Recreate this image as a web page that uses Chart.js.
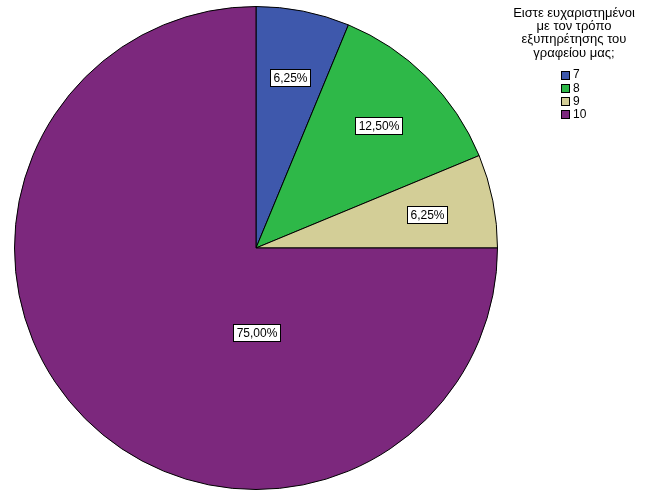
<!DOCTYPE html>
<html>
<head>
<meta charset="utf-8">
<script src="https://cdn.jsdelivr.net/npm/chart.js@4/dist/chart.umd.min.js"></script>
<style>
  html, body { margin: 0; padding: 0; background: #fff; }
  #wrap { width: 646px; height: 502px; }
</style>
</head>
<body>
<div id="wrap"><canvas id="chart" width="646" height="502"></canvas></div>
<script>
'use strict';

const categories = ['7', '8', '9', '10'];
const percents = [6.25, 12.5, 6.25, 75];
const sliceColors = ['#3E58AC', '#2EB848', '#D3CE97', '#7C287D'];
const legendTitle = ['Ειστε ευχαριστημένοι', 'με τον τρόπο', 'εξυπηρέτησης του', 'γραφείου μας;'];

function formatPercent(v) {
  return v.toFixed(2).replace('.', ',') + '%';
}

// white boxed percentage labels inside slices
const sliceLabels = {
  id: 'sliceLabels',
  afterDatasetsDraw(chart) {
    const c = chart.ctx;
    const arcs = chart.getDatasetMeta(0).data;
    c.save();
    c.font = '12px "Liberation Sans", Arial, sans-serif';
    c.textAlign = 'center';
    c.textBaseline = 'middle';
    arcs.forEach(function (arc, i) {
      const p = arc.getProps(['x', 'y', 'startAngle', 'endAngle', 'outerRadius']);
      let x, y;
      if (p.endAngle - p.startAngle > Math.PI) {
        x = p.x;
        y = p.y + p.outerRadius * 0.35;
      } else {
        const mid = (p.startAngle + p.endAngle) / 2;
        const r = p.outerRadius * 0.72;
        x = p.x + Math.cos(mid) * r;
        y = p.y + Math.sin(mid) * r;
      }
      const text = formatPercent(percents[i]);
      const w = Math.round(c.measureText(text).width) + 6;
      const h = 17;
      const bx = Math.round(x - w / 2) + 0.5;
      const by = Math.round(y - h / 2) + 0.5;
      c.fillStyle = '#fff';
      c.fillRect(bx, by, w, h);
      c.strokeStyle = '#000';
      c.lineWidth = 1;
      c.strokeRect(bx, by, w, h);
      c.fillStyle = '#000';
      c.fillText(text, bx + w / 2, by + h / 2 + 0.5);
    });
    c.restore();
  }
};

// legend box at the top right
const sideLegend = {
  id: 'sideLegend',
  afterDraw(chart) {
    const c = chart.ctx;
    c.save();
    c.fillStyle = '#000';
    c.font = '13px "Liberation Sans", Arial, sans-serif';
    c.textAlign = 'center';
    c.textBaseline = 'middle';
    legendTitle.forEach(function (line, i) {
      c.fillText(line, 574, 13 + i * 13.4);
    });
    c.font = '12px "Liberation Sans", Arial, sans-serif';
    c.textAlign = 'left';
    categories.forEach(function (cat, i) {
      const y = 74.5 + i * 13.3;
      c.fillStyle = sliceColors[i];
      c.fillRect(561.5, Math.round(y - 4) + 0.5, 8, 8);
      c.strokeStyle = '#000';
      c.lineWidth = 1;
      c.strokeRect(561.5, Math.round(y - 4) + 0.5, 8, 8);
      c.fillStyle = '#000';
      c.fillText(cat, 573, y + 0.5);
    });
    c.restore();
  }
};

new Chart(document.getElementById('chart'), {
  type: 'pie',
  data: {
    labels: categories,
    datasets: [{
      data: percents,
      backgroundColor: sliceColors,
      borderColor: '#000',
      borderWidth: 1,
      hoverOffset: 0
    }]
  },
  options: {
    responsive: false,
    animation: false,
    events: [],
    layout: { padding: { left: 14, top: 6, right: 148, bottom: 12 } },
    plugins: {
      legend: { display: false },
      tooltip: { enabled: false }
    }
  },
  plugins: [sliceLabels, sideLegend]
});
</script>
</body>
</html>
